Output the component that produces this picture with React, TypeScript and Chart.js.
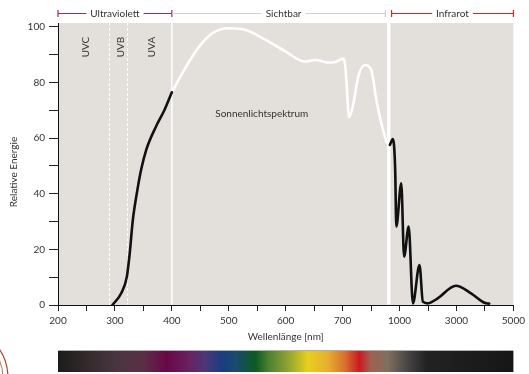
import React, { useEffect, useRef } from 'react';
import { Chart, registerables } from 'chart.js';

Chart.register(...registerables);

// ---- axis (non-linear wavelength axis, breakpoints from the tick labels) ----
const AXIS_NM = [200, 700, 1000, 5000];
const AXIS_POS = [0, 10, 12, 16];
const TICK_NM = [200, 300, 400, 500, 600, 700, 1000, 3000, 5000];
const Y_TICKS = [0, 10, 20, 30, 40, 50, 60, 70, 80, 90, 100];
const Y_TICKS_LABELLED = [0, 20, 40, 60, 80, 100];

// ---- data: sunlight spectrum ----
const UV_NM = [295.6, 311, 321, 326, 331.5, 338.5, 346, 355, 372, 387, 400];
const UV_E = [0, 4.2, 10.2, 18.6, 30.6, 40.2, 48.6, 55.8, 64.1, 70.1, 76.5];

const VIS_NM = [400, 425, 448, 471, 500, 530, 565, 600, 634, 652, 675, 687, 704, 713, 721, 734, 757, 782, 817, 851, 878, 904, 931];
const VIS_E = [76.5, 85.7, 92.9, 97.7, 99.5, 98.9, 95.3, 91.1, 87.5, 88.1, 87.2, 87.4, 88.6, 86.5, 79.7, 67.5, 72.5, 82, 86.3, 84.5, 73.7, 65.4, 58.5];

const IR_NM = [949, 965, 977, 983, 1060, 1160, 1320, 1470, 1700, 1820, 1990, 2340, 2980, 3510, 3980, 4150];
const IR_E = [57.6, 59.7, 48.6, 28.2, 43.8, 17.4, 28.2, 0.6, 14.4, 1.2, 0.6, 2.4, 6.9, 4.2, 0.8, 0.5];

// ---- region boundaries / labels ----
const UV_BOUNDS_NM = [290, 322];
const UV_VIS_NM = 400;
const VIS_IR_NM = 943;
const UV_BAND_LABELS = ['UVC', 'UVB', 'UVA'];
const UV_BAND_NM = [249, 311, 364];
const REGION_LABELS = ['Ultraviolett', 'Sichtbar', 'Infrarot'];
const REGION_NM: [number, number][] = [[200, 400], [400, 925], [958, 5000]];
const SERIES_LABEL = 'Sonnenlichtspektrum';
const SERIES_LABEL_POS = [558, 68.6];

const SPECTRUM_STOPS: [number, string][] = [
  [0, '#1c1c1c'], [0.054, '#302828'], [0.129, '#4a3540'], [0.185, '#5a2f45'],
  [0.24, '#6a0848'], [0.288, '#682262'], [0.325, '#4a3878'], [0.359, '#1a3c82'],
  [0.39, '#1a4a6e'], [0.434, '#0e5a22'], [0.462, '#4a8030'], [0.505, '#92a232'],
  [0.549, '#e8cf20'], [0.593, '#e6ae30'], [0.63, '#d87030'], [0.662, '#cc1a22'],
  [0.686, '#a06050'], [0.723, '#807060'], [0.773, '#424040'], [0.81, '#222222'],
  [1, '#161616'],
];

const FONT = 'Lato, "Open Sans", sans-serif';

function toAxis(nm: number): number {
  for (let i = 0; i < AXIS_NM.length - 1; i++) {
    if (nm <= AXIS_NM[i + 1] || i === AXIS_NM.length - 2) {
      const t = (nm - AXIS_NM[i]) / (AXIS_NM[i + 1] - AXIS_NM[i]);
      return AXIS_POS[i] + t * (AXIS_POS[i + 1] - AXIS_POS[i]);
    }
  }
  return 0;
}

const pts = (xs: number[], ys: number[]) => xs.map((x, i) => ({ x: toAxis(x), y: ys[i] }));

const decor = {
  id: 'decor',
  beforeDraw(chart: any) {
    const { ctx, chartArea: a } = chart;
    ctx.save();
    ctx.fillStyle = '#e3e0dc';
    ctx.fillRect(a.left, a.top, a.right - a.left, a.bottom - a.top);
    ctx.restore();
  },
  beforeDatasetsDraw(chart: any) {
    const { ctx, chartArea: a, scales } = chart;
    const xs = scales.x;
    const ys = scales.y;
    ctx.save();
    ctx.strokeStyle = '#ffffff';
    ctx.setLineDash([3, 2]);
    ctx.lineWidth = 1;
    UV_BOUNDS_NM.forEach((nm) => {
      const x = Math.round(xs.getPixelForValue(toAxis(nm))) + 0.5;
      ctx.beginPath();
      ctx.moveTo(x, a.top);
      ctx.lineTo(x, a.bottom - 0.5);
      ctx.stroke();
    });
    ctx.setLineDash([]);
    let x = xs.getPixelForValue(toAxis(UV_VIS_NM));
    ctx.lineWidth = 1.5;
    ctx.beginPath();
    ctx.moveTo(x, a.top);
    ctx.lineTo(x, a.bottom - 0.5);
    ctx.stroke();
    x = xs.getPixelForValue(toAxis(VIS_IR_NM));
    ctx.lineWidth = 3.5;
    ctx.beginPath();
    ctx.moveTo(x, a.top);
    ctx.lineTo(x, a.bottom - 0.5);
    ctx.stroke();

    ctx.fillStyle = '#333';
    ctx.font = `10px ${FONT}`;
    ctx.textAlign = 'center';
    ctx.textBaseline = 'middle';
    UV_BAND_LABELS.forEach((t, i) => {
      const px = xs.getPixelForValue(toAxis(UV_BAND_NM[i]));
      ctx.save();
      ctx.translate(px, 47);
      ctx.rotate(-Math.PI / 2);
      ctx.fillText(t, 0, 0);
      ctx.restore();
    });
    ctx.fillText(
      SERIES_LABEL,
      xs.getPixelForValue(toAxis(SERIES_LABEL_POS[0])),
      ys.getPixelForValue(SERIES_LABEL_POS[1])
    );
    ctx.restore();
  },
  afterDraw(chart: any) {
    const { ctx, chartArea: a, scales } = chart;
    const xs = scales.x;
    ctx.save();
    const colors = ['#9e2a6c', '#d2d2d2', '#c8282e'];
    const caps = [[true, true], [false, true], [true, true]];
    const yb = 13.5;
    ctx.font = `10px ${FONT}`;
    ctx.textAlign = 'center';
    ctx.textBaseline = 'middle';
    REGION_LABELS.forEach((t, i) => {
      const x0 = xs.getPixelForValue(toAxis(REGION_NM[i][0]));
      const x1 = xs.getPixelForValue(toAxis(REGION_NM[i][1]));
      const cx = (x0 + x1) / 2 + (i === 1 ? 5 : 0);
      const w = ctx.measureText(t).width;
      ctx.strokeStyle = colors[i];
      ctx.lineWidth = 1.2;
      ctx.beginPath();
      ctx.moveTo(x0, yb);
      ctx.lineTo(cx - w / 2 - 4, yb);
      ctx.moveTo(cx + w / 2 + 4, yb);
      ctx.lineTo(x1, yb);
      if (caps[i][0]) { ctx.moveTo(x0, yb - 3.5); ctx.lineTo(x0, yb + 3.5); }
      if (caps[i][1]) { ctx.moveTo(x1, yb - 3.5); ctx.lineTo(x1, yb + 3.5); }
      ctx.stroke();
      ctx.fillStyle = '#333';
      ctx.fillText(t, cx, yb);
    });

    ctx.fillStyle = '#333';
    ctx.fillText('Wellenlänge [nm]', (a.left + a.right) / 2, 337);
    ctx.save();
    ctx.translate(14, 172);
    ctx.rotate(-Math.PI / 2);
    ctx.fillText('Relative Energie', 0, 0);
    ctx.restore();

    const g = ctx.createLinearGradient(a.left, 0, a.right, 0);
    SPECTRUM_STOPS.forEach(([p, c]) => g.addColorStop(p, c));
    ctx.fillStyle = g;
    ctx.fillRect(a.left, 351, a.right - a.left, 21);
    ctx.strokeStyle = 'rgba(120,120,120,0.6)';
    ctx.lineWidth = 1;
    ctx.beginPath();
    ctx.moveTo(a.left, 350.5);
    ctx.lineTo(a.right, 350.5);
    ctx.stroke();

    ctx.strokeStyle = '#a8462e';
    ctx.lineWidth = 1.2;
    ctx.beginPath();
    ctx.arc(-44, 378, 52, -Math.PI / 2, 0.2);
    ctx.stroke();
    ctx.lineWidth = 0.8;
    ctx.beginPath();
    ctx.arc(-44, 378, 47, -Math.PI / 2, 0.2);
    ctx.stroke();
    ctx.restore();
  },
};

export default function App() {
  const ref = useRef<HTMLCanvasElement>(null);
  useEffect(() => {
    if (!ref.current) return;
    const chart = new Chart(ref.current, {
      type: 'line',
      data: {
        datasets: [
          { data: pts(UV_NM, UV_E), borderColor: '#111', borderWidth: 2.6 },
          { data: pts(VIS_NM, VIS_E), borderColor: '#ffffff', borderWidth: 2.6 },
          { data: pts(IR_NM, IR_E), borderColor: '#111', borderWidth: 2.6 },
        ],
      },
      options: {
        responsive: false,
        animation: false,
        devicePixelRatio: 1,
        layout: { padding: { top: 23, right: 12, left: 0, bottom: 0 } },
        elements: {
          point: { radius: 0 },
          line: { cubicInterpolationMode: 'monotone', borderCapStyle: 'round', borderJoinStyle: 'round' },
        },
        plugins: { legend: { display: false }, tooltip: { enabled: false }, title: { display: false } },
        scales: {
          x: {
            type: 'linear',
            min: 0,
            max: 16,
            afterFit: (s: any) => { s.height = 69; },
            grid: { display: true, drawOnChartArea: false, drawTicks: true, tickLength: 6, color: '#222', lineWidth: 1 },
            border: { display: true, color: '#111', width: 1 },
            ticks: {
              stepSize: 1,
              autoSkip: false,
              maxRotation: 0,
              padding: 4,
              color: '#333',
              font: { family: FONT, size: 10 },
              callback: (v: any) => {
                const nm = TICK_NM.find((n) => Math.abs(toAxis(n) - v) < 1e-6);
                return nm === undefined ? '' : String(nm);
              },
            },
          },
          y: {
            min: 0,
            max: 101.4,
            afterFit: (s: any) => { s.width = 58; },
            afterBuildTicks: (s: any) => { s.ticks = Y_TICKS.map((v) => ({ value: v })); },
            grid: { display: true, drawOnChartArea: false, drawTicks: true, tickLength: 9, color: '#222', lineWidth: 1 },
            border: { display: true, color: '#111', width: 1 },
            ticks: {
              autoSkip: false,
              padding: 4,
              color: '#333',
              font: { family: FONT, size: 10 },
              callback: (v: any) => (Y_TICKS_LABELLED.includes(v) ? String(v) : ''),
            },
          },
        },
      },
      plugins: [decor],
    });
    return () => chart.destroy();
  }, []);
  return (
    <div style={{ position: 'absolute', left: 0, top: 0, width: 529, height: 374, background: '#fff' }}>
      <canvas ref={ref} width={529} height={374} style={{ display: 'block' }} />
    </div>
  );
}
